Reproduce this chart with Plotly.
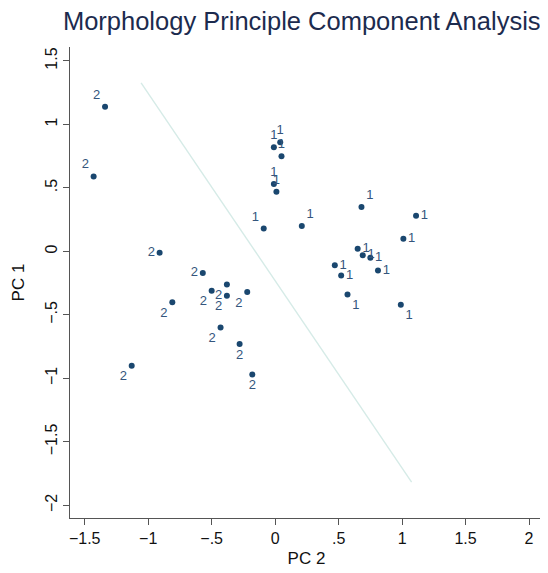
import plotly.graph_objects as go

# Group 1 points (PC 2, PC 1) and label positions
g1_pc2 = [-0.01, 0.04, 0.05, -0.01, 0.01, -0.09, 0.21, 0.68, 1.11, 1.01, 0.65, 0.69, 0.75, 0.81, 0.47, 0.52, 0.57, 0.99]
g1_pc1 = [0.82, 0.86, 0.75, 0.53, 0.47, 0.18, 0.20, 0.35, 0.28, 0.10, 0.02, -0.03, -0.05, -0.15, -0.11, -0.19, -0.34, -0.42]
g1_pos = ["top center", "top center", "top center", "top center", "top center", "top left", "top right", "top right",
          "middle right", "middle right", "middle right", "middle right", "middle right", "middle right",
          "middle right", "middle right", "bottom right", "bottom right"]

# Group 2 points
g2_pc2 = [-1.34, -1.43, -0.91, -0.57, -0.38, -0.50, -0.38, -0.22, -0.81, -0.43, -0.28, -0.18, -1.13]
g2_pc1 = [1.14, 0.59, -0.01, -0.17, -0.26, -0.31, -0.35, -0.32, -0.40, -0.60, -0.73, -0.97, -0.90]
g2_pos = ["top left", "top left", "middle left", "middle left", "bottom left", "bottom left", "bottom left",
          "bottom left", "bottom left", "bottom left", "bottom center", "bottom center", "bottom left"]

# Separating line
line_pc2 = [-1.056, 1.075]
line_pc1 = [1.327, -1.817]

xticks = [-1.5, -1, -0.5, 0, 0.5, 1, 1.5, 2]
xticktext = ["\u22121.5", "\u22121", "\u2212.5", "0", ".5", "1", "1.5", "2"]
yticks = [-2, -1.5, -1, -0.5, 0, 0.5, 1, 1.5]
yticktext = ["\u22122", "\u22121.5", "\u22121", "\u2212.5", "0", ".5", "1", "1.5"]

navy = "#1a476f"
label_col = "#34557d"
font = "Liberation Sans, Arial, sans-serif"

fig = go.Figure()
fig.add_trace(go.Scatter(x=line_pc2, y=line_pc1, mode="lines",
                         line=dict(color="#d6ebe7", width=1.4), hoverinfo="skip", showlegend=False))
fig.add_trace(go.Scatter(x=g1_pc2, y=g1_pc1, mode="markers+text", text=["1"] * len(g1_pc2),
                         textposition=g1_pos, textfont=dict(size=13, color=label_col, family=font),
                         marker=dict(size=6, color=navy), showlegend=False))
fig.add_trace(go.Scatter(x=g2_pc2, y=g2_pc1, mode="markers+text", text=["2"] * len(g2_pc2),
                         textposition=g2_pos, textfont=dict(size=13, color=label_col, family=font),
                         marker=dict(size=6, color=navy), showlegend=False))

axis_common = dict(showgrid=False, zeroline=False, showline=True, linecolor="#555555", linewidth=1.2,
                   ticks="outside", ticklen=6, tickcolor="#555555", tickwidth=1.2, automargin=False,
                   tickfont=dict(size=16, color="#111111", family=font), mirror=False)

fig.update_layout(
    width=548, height=573,
    margin=dict(l=62, r=13, t=39, b=63),
    paper_bgcolor="white", plot_bgcolor="white",
    title=dict(text="Morphology Principle Component Analysis", x=0.536, xanchor="center", y=0.978, yanchor="middle",
               font=dict(size=25.5, color="#1c2b4e", family=font)),
    xaxis=dict(range=[-1.616, 2.11], tickvals=xticks, ticktext=xticktext,
               title=dict(text="PC 2", font=dict(size=17, color="#111111", family=font), standoff=5),
               **axis_common),
    yaxis=dict(range=[-2.10, 1.61], tickvals=yticks, ticktext=yticktext, tickangle=-90,
               title=dict(text="PC 1", font=dict(size=17, color="#111111", family=font), standoff=13),
               **axis_common),
)

fig.write_html("out.html")
